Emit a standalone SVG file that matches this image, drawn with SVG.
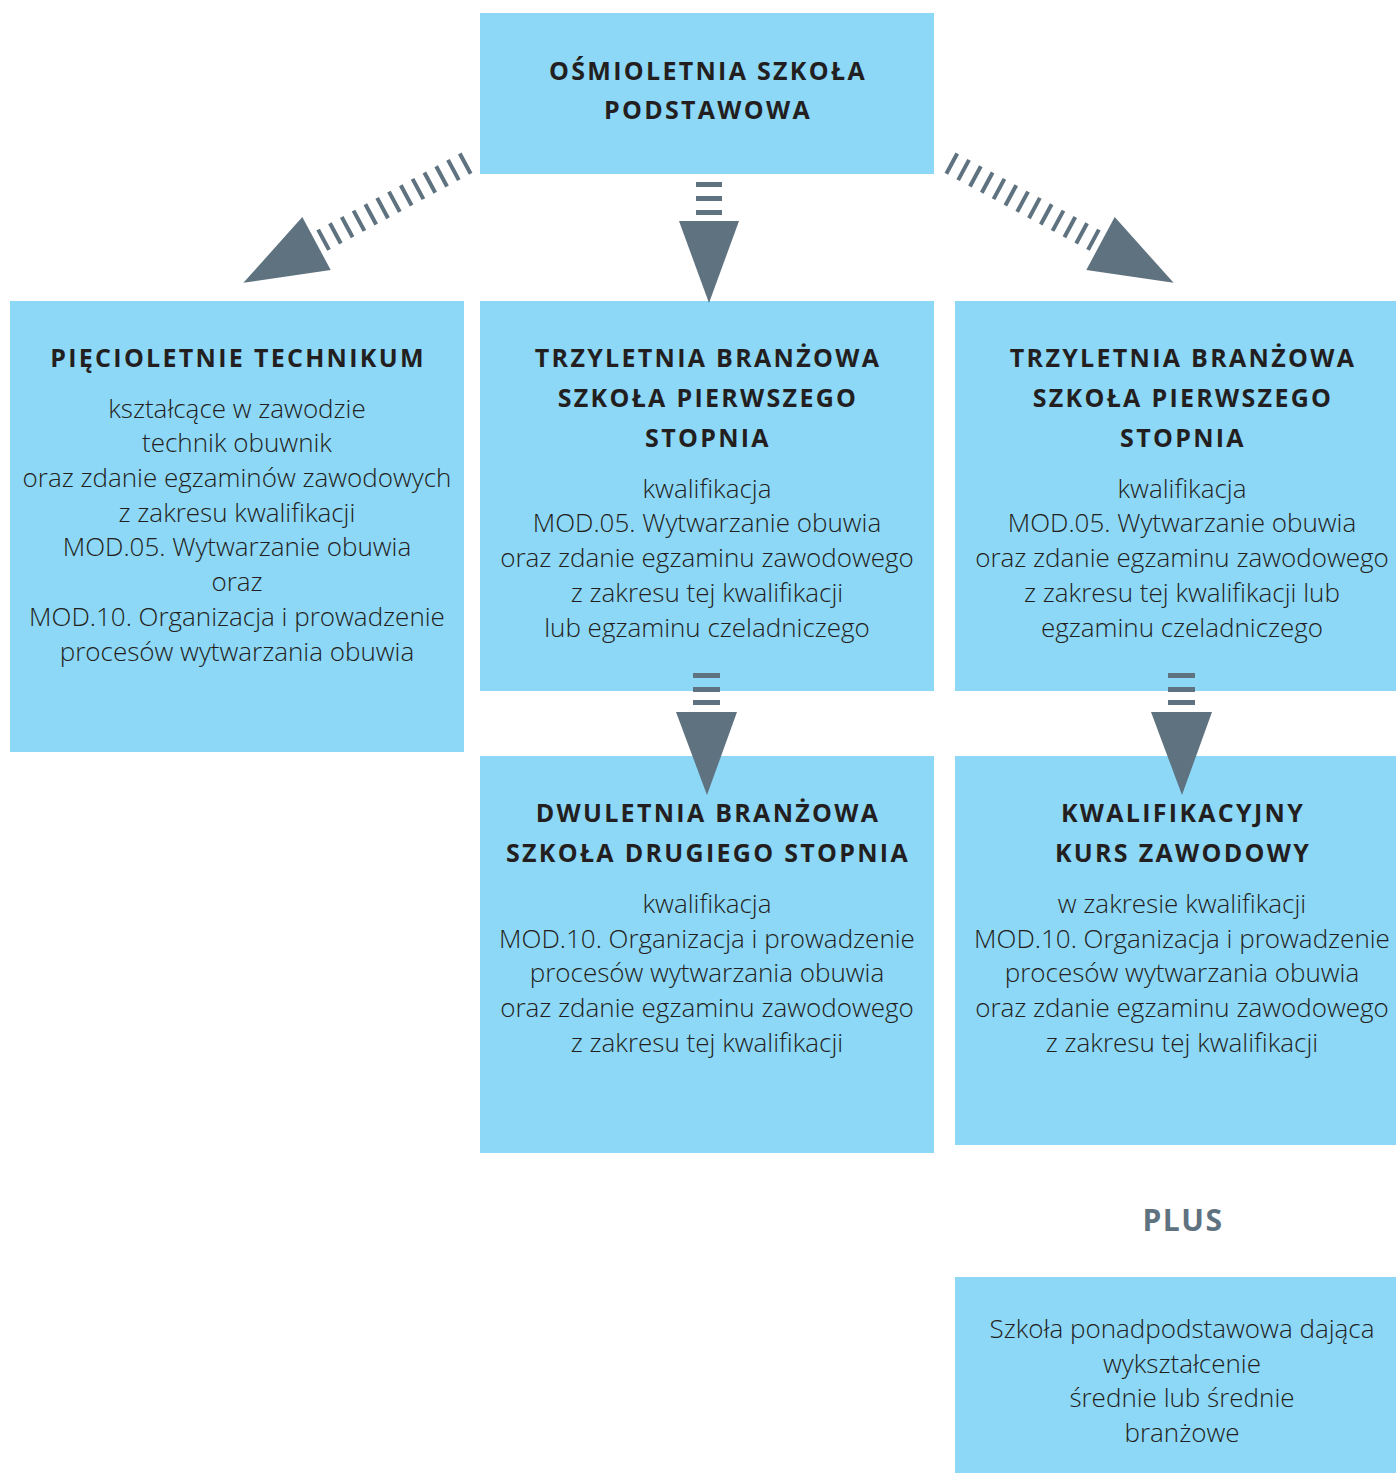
<svg xmlns="http://www.w3.org/2000/svg" width="1396" height="1473" viewBox="0 0 1396 1473">
<style>
.box{fill:#8dd7f7}
.h{font-family:"Open Sans","DejaVu Sans",sans-serif;font-weight:700;font-size:25px;letter-spacing:2.3px;fill:#231f20;text-anchor:middle}
.b{font-family:"Open Sans","DejaVu Sans",sans-serif;font-weight:300;font-size:26px;fill:#231f20;text-anchor:middle}
.plus{font-family:"Open Sans","DejaVu Sans",sans-serif;font-weight:700;font-size:30px;letter-spacing:1.5px;fill:#5f7280;text-anchor:middle}
.ar{fill:#5f7280}
.dash{stroke:#5f7280;stroke-width:23;stroke-dasharray:4 9.4;fill:none}
</style>
<rect width="1396" height="1473" fill="#ffffff"/>
<g id="node-podstawowa">
<rect class="box" x="480" y="13" width="454" height="161"/>
<text class="h" x="708" y="80">OŚMIOLETNIA SZKOŁA</text>
<text class="h" x="708" y="119">PODSTAWOWA</text>
</g>
<g id="node-technikum">
<rect class="box" x="10" y="301" width="454" height="451"/>
<text class="h" x="238" y="367">PIĘCIOLETNIE TECHNIKUM</text>
<text class="b" x="237" y="418">kształcące w zawodzie</text>
<text class="b" x="237" y="452">technik obuwnik</text>
<text class="b" x="237" y="487">oraz zdanie egzaminów zawodowych</text>
<text class="b" x="237" y="522">z zakresu kwalifikacji</text>
<text class="b" x="237" y="556">MOD.05. Wytwarzanie obuwia</text>
<text class="b" x="237" y="591">oraz</text>
<text class="b" x="237" y="626">MOD.10. Organizacja i prowadzenie</text>
<text class="b" x="237" y="661">procesów wytwarzania obuwia</text>
</g>
<g id="node-branzowa1-a">
<rect class="box" x="480" y="301" width="454" height="390"/>
<text class="h" x="708" y="367">TRZYLETNIA BRANŻOWA</text>
<text class="h" x="708" y="407">SZKOŁA PIERWSZEGO</text>
<text class="h" x="708" y="447">STOPNIA</text>
<text class="b" x="707" y="498">kwalifikacja</text>
<text class="b" x="707" y="532">MOD.05. Wytwarzanie obuwia</text>
<text class="b" x="707" y="567">oraz zdanie egzaminu zawodowego</text>
<text class="b" x="707" y="602">z zakresu tej kwalifikacji</text>
<text class="b" x="707" y="637">lub egzaminu czeladniczego</text>
</g>
<g id="node-branzowa1-b">
<rect class="box" x="955" y="301" width="441" height="390"/>
<text class="h" x="1183" y="367">TRZYLETNIA BRANŻOWA</text>
<text class="h" x="1183" y="407">SZKOŁA PIERWSZEGO</text>
<text class="h" x="1183" y="447">STOPNIA</text>
<text class="b" x="1182" y="498">kwalifikacja</text>
<text class="b" x="1182" y="532">MOD.05. Wytwarzanie obuwia</text>
<text class="b" x="1182" y="567">oraz zdanie egzaminu zawodowego</text>
<text class="b" x="1182" y="602">z zakresu tej kwalifikacji lub</text>
<text class="b" x="1182" y="637">egzaminu czeladniczego</text>
</g>
<g id="node-branzowa2">
<rect class="box" x="480" y="756" width="454" height="397"/>
<text class="h" x="708" y="822">DWULETNIA BRANŻOWA</text>
<text class="h" x="708" y="862">SZKOŁA DRUGIEGO STOPNIA</text>
<text class="b" x="707" y="913">kwalifikacja</text>
<text class="b" x="707" y="948">MOD.10. Organizacja i prowadzenie</text>
<text class="b" x="707" y="982">procesów wytwarzania obuwia</text>
<text class="b" x="707" y="1017">oraz zdanie egzaminu zawodowego</text>
<text class="b" x="707" y="1052">z zakresu tej kwalifikacji</text>
</g>
<g id="node-kurs">
<rect class="box" x="955" y="756" width="441" height="389"/>
<text class="h" x="1183" y="822">KWALIFIKACYJNY</text>
<text class="h" x="1183" y="862">KURS ZAWODOWY</text>
<text class="b" x="1182" y="913">w zakresie kwalifikacji</text>
<text class="b" x="1182" y="948">MOD.10. Organizacja i prowadzenie</text>
<text class="b" x="1182" y="982">procesów wytwarzania obuwia</text>
<text class="b" x="1182" y="1017">oraz zdanie egzaminu zawodowego</text>
<text class="b" x="1182" y="1052">z zakresu tej kwalifikacji</text>
</g>
<g id="label-plus">
<text class="plus" x="1183" y="1231">PLUS</text>
</g>
<g id="node-ponadpodstawowa">
<rect class="box" x="955" y="1277" width="441" height="196"/>
<text class="b" x="1182" y="1338">Szkoła ponadpodstawowa dająca</text>
<text class="b" x="1182" y="1373">wykształcenie</text>
<text class="b" x="1182" y="1407">średnie lub średnie</text>
<text class="b" x="1182" y="1442">branżowe</text>
</g>
<g id="connectors">
<line class="dash" x1="321.8" y1="240.7" x2="467.2" y2="162.6"/>
<polygon class="ar" points="302.3,217.1 330.7,269.9 243.4,282.8"/>
<line class="dash" x1="1095.2" y1="240.7" x2="949.8" y2="162.6"/>
<polygon class="ar" points="1114.7,217.1 1086.3,269.9 1173.6,282.8"/>
<rect class="ar" x="696" y="182" width="26" height="5"/>
<rect class="ar" x="696" y="196" width="26" height="5"/>
<rect class="ar" x="696" y="210" width="26" height="5"/>
<polygon class="ar" points="679,221 739,221 709,303"/>
<rect class="ar" x="693" y="673" width="27" height="5"/>
<rect class="ar" x="693" y="687" width="27" height="5"/>
<rect class="ar" x="693" y="700" width="27" height="5"/>
<polygon class="ar" points="676,712 737,712 707,795"/>
<rect class="ar" x="1168" y="673" width="27" height="5"/>
<rect class="ar" x="1168" y="687" width="27" height="5"/>
<rect class="ar" x="1168" y="700" width="27" height="5"/>
<polygon class="ar" points="1151,712 1212,712 1182,795"/>
</g>
</svg>
